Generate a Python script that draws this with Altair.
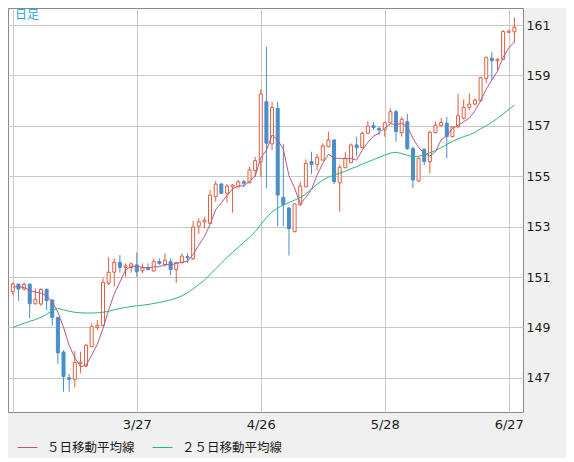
import altair as alt
import pandas as pd

# ---- data (USD/JPY daily candles) ----
opens = [150.42, 150.72, 150.52, 150.72, 149.94, 149.93, 150.51, 150.09, 149.40, 148.02,
         147.00, 146.94, 147.56, 147.47, 148.24, 149.00, 149.08, 150.75, 151.19, 151.58,
         151.38, 151.38, 151.48, 151.25, 151.38, 151.24, 151.61, 151.48, 151.61, 151.30,
         151.57, 151.81, 151.74, 153.02, 153.19, 153.13, 154.19, 154.69, 154.32, 154.58,
         154.58, 154.78, 154.74, 155.22, 155.58, 157.96, 156.28, 157.69, 154.16, 153.74,
         152.80, 153.87, 154.58, 155.58, 155.47, 155.64, 156.17, 156.44, 154.74, 155.34,
         155.54, 156.24, 156.14, 156.70, 157.01, 156.90, 156.86, 157.12, 157.56, 156.73,
         157.16, 156.10, 154.81, 156.07, 155.58, 156.73, 157.01, 157.10, 156.57, 156.96,
         157.30, 157.73, 157.86, 158.00, 158.88, 159.68, 159.58, 159.64, 160.71, 160.73]
highs = [150.79, 150.72, 150.79, 150.72, 150.55, 150.55, 150.55, 150.09, 149.40, 148.10,
         147.15, 148.06, 148.04, 148.34, 149.16, 149.29, 150.95, 151.78, 151.74, 151.87,
         151.54, 151.58, 151.97, 151.54, 151.54, 151.74, 151.74, 151.94, 151.74, 151.57,
         151.94, 151.94, 153.22, 153.33, 153.39, 154.45, 154.82, 154.74, 154.69, 154.69,
         154.85, 154.85, 155.38, 155.77, 158.45, 160.14, 157.96, 157.96, 156.28, 153.77,
         153.92, 154.78, 155.67, 155.97, 155.88, 156.30, 156.77, 156.46, 155.45, 155.97,
         156.30, 156.57, 156.77, 157.19, 157.16, 156.97, 157.16, 157.69, 157.65, 157.34,
         157.47, 156.17, 155.75, 156.10, 156.81, 157.16, 157.32, 157.36, 156.99, 158.27,
         158.05, 158.29, 158.09, 158.95, 159.74, 159.94, 159.68, 160.80, 160.80, 161.30]
lows = [150.29, 150.06, 150.46, 149.36, 149.90, 149.85, 149.69, 149.06, 147.55, 146.45,
        146.45, 146.62, 147.18, 147.42, 148.21, 148.90, 149.05, 150.68, 150.62, 151.17,
        151.01, 151.17, 151.01, 151.15, 151.25, 151.21, 151.48, 151.41, 151.08, 150.77,
        151.54, 151.57, 151.67, 152.71, 152.93, 153.10, 153.99, 154.29, 153.95, 153.55,
        154.56, 154.56, 154.72, 154.98, 154.98, 154.52, 156.04, 153.02, 153.02, 151.85,
        152.77, 153.82, 154.56, 155.09, 155.25, 155.62, 156.15, 154.69, 153.59, 155.31,
        155.51, 155.80, 156.11, 156.68, 156.83, 156.63, 156.57, 157.10, 156.37, 156.57,
        156.04, 154.52, 154.78, 155.44, 155.11, 156.70, 156.97, 155.71, 156.54, 156.90,
        157.25, 157.63, 157.82, 157.96, 158.69, 158.82, 159.19, 159.61, 160.70, 160.30]
closes = [150.72, 150.52, 150.70, 149.94, 150.11, 150.51, 150.06, 149.40, 147.99, 147.05,
          146.94, 147.61, 147.62, 148.29, 149.03, 149.08, 150.79, 151.19, 151.58, 151.38,
          151.44, 151.52, 151.21, 151.37, 151.30, 151.61, 151.54, 151.67, 151.30, 151.57,
          151.83, 151.76, 152.98, 153.19, 153.26, 154.25, 154.69, 154.32, 154.61, 154.65,
          154.78, 154.72, 155.25, 155.62, 158.26, 156.31, 157.73, 154.25, 153.87, 152.92,
          153.90, 154.61, 155.51, 155.47, 155.75, 156.20, 156.44, 154.78, 155.35, 155.71,
          156.24, 156.13, 156.70, 156.99, 156.93, 156.83, 157.12, 157.56, 156.77, 157.26,
          156.10, 154.85, 155.71, 155.58, 156.74, 157.03, 157.13, 156.57, 156.96, 157.40,
          157.73, 157.86, 158.02, 158.91, 159.72, 159.58, 159.64, 160.74, 160.76, 160.91]
ma5 = [150.60, 150.62, 150.58, 150.47, 150.40, 150.36, 150.26, 150.00, 149.61, 149.00,
       148.29, 147.80, 147.44, 147.50, 147.90, 148.33, 148.96, 149.68, 150.33, 150.80,
       151.28, 151.42, 151.43, 151.38, 151.37, 151.40, 151.41, 151.50, 151.48, 151.54,
       151.58, 151.63, 151.89, 152.27, 152.60, 153.09, 153.67, 153.94, 154.23, 154.50,
       154.61, 154.62, 154.80, 155.00, 155.73, 156.03, 156.63, 156.43, 156.08, 155.02,
       154.53, 153.91, 154.16, 154.48, 155.05, 155.51, 155.87, 155.73, 155.70, 155.70,
       155.70, 155.64, 156.03, 156.35, 156.59, 156.71, 156.91, 157.08, 157.04, 157.11,
       156.96, 156.51, 156.14, 155.90, 155.80, 155.98, 156.44, 156.61, 156.89, 157.02,
       157.16, 157.31, 157.60, 157.99, 158.45, 158.82, 159.17, 159.72, 160.09, 160.33]
ma25 = [149.00, 149.08, 149.16, 149.24, 149.31, 149.40, 149.52, 149.66, 149.76, 149.70,
        149.64, 149.60, 149.58, 149.57, 149.57, 149.58, 149.60, 149.64, 149.70, 149.75,
        149.79, 149.83, 149.86, 149.88, 149.91, 149.95, 149.99, 150.04, 150.09, 150.16,
        150.25, 150.38, 150.53, 150.70, 150.88, 151.10, 151.33, 151.55, 151.78, 151.98,
        152.17, 152.38, 152.58, 152.80, 153.08, 153.35, 153.58, 153.74, 153.86, 153.95,
        154.05, 154.15, 154.30, 154.48, 154.68, 154.85, 154.96, 155.05, 155.12, 155.20,
        155.30, 155.38, 155.48, 155.57, 155.66, 155.75, 155.84, 155.92, 155.95, 155.90,
        155.83, 155.77, 155.79, 155.85, 155.93, 156.02, 156.13, 156.26, 156.38, 156.48,
        156.57, 156.64, 156.74, 156.88, 157.00, 157.14, 157.30, 157.47, 157.65, 157.82]

x_tick_pos = [0, 22, 44, 66, 88]
x_tick_labels = ["", "3/27", "4/26", "5/28", "6/27"]
y_ticks = [147, 149, 151, 153, 155, 157, 159, 161]
series_names = ["５日移動平均線", "２５日移動平均線"]
corner_label = ["日足"]

RED = "#dc5f3e"
BLUE = "#4a8ec9"
PINK = "#b9568c"
GREEN = "#2fb574"

n = len(closes)
df = pd.DataFrame({"i": list(range(n)), "open": opens, "high": highs,
                   "low": lows, "close": closes})
df["dir"] = ["up" if c >= o else "down" for o, c in zip(opens, closes)]

ma_df = pd.concat([
    pd.DataFrame({"i": list(range(n)), "v": ma5, "s": series_names[0]}),
    pd.DataFrame({"i": list(range(n)), "v": ma25, "s": series_names[1]}),
], ignore_index=True)

label_expr = " : ".join(f"datum.value == {p} ? '{t}'" for p, t in zip(x_tick_pos, x_tick_labels)) + " : ''"

xscale = alt.Scale(domain=[-0.852, 90.526], nice=False, zero=False, padding=0)
yscale = alt.Scale(domain=[145.643, 161.675], nice=False, zero=False, padding=0)

x_axis = alt.Axis(values=x_tick_pos, labelExpr=label_expr, grid=True, ticks=False,
                  domain=False, labelPadding=6, labelFont="DejaVu Sans", labelFontSize=13,
                  labelColor="#1a1a1a", gridColor="#c8c8c8", labelFlush=False, title=None)
y_axis = alt.Axis(orient="right", values=y_ticks, grid=True, ticks=False, domain=False,
                  labelPadding=3, labelFont="DejaVu Sans", labelFontSize=12.5,
                  labelColor="#1a1a1a", gridColor="#c8c8c8", title=None)

dir_stroke = alt.Scale(domain=["up", "down"], range=[RED, BLUE])
dir_fill = alt.Scale(domain=["up", "down"], range=["#ffffff", BLUE])

base = alt.Chart(df)
wick = base.mark_rule(strokeWidth=1).encode(
    x=alt.X("i:Q", scale=xscale, axis=x_axis),
    y=alt.Y("low:Q", scale=yscale, axis=y_axis),
    y2="high:Q",
    stroke=alt.Stroke("dir:N", scale=dir_stroke, legend=None),
)
body = base.mark_bar(size=3, strokeWidth=1).encode(
    x="i:Q",
    y="open:Q",
    y2="close:Q",
    fill=alt.Fill("dir:N", scale=dir_fill, legend=None),
    stroke=alt.Stroke("dir:N", scale=dir_stroke, legend=None),
)
lines = alt.Chart(ma_df).mark_line(strokeWidth=1).encode(
    x="i:Q",
    y="v:Q",
    color=alt.Color("s:N", scale=alt.Scale(domain=series_names, range=[PINK, GREEN]),
                    sort=series_names,
                    legend=alt.Legend(orient="none", legendX=9, legendY=429,
                                      direction="horizontal", title=None,
                                      symbolType="stroke", symbolSize=400,
                                      symbolStrokeWidth=1, labelFont="Noto Sans CJK JP",
                                      labelFontSize=12.5, labelOffset=9, columnPadding=15,
                                      padding=0, labelColor="#1a1a1a")),
)
corner = alt.Chart(pd.DataFrame({"t": corner_label})).mark_text(
    align="left", baseline="top", font="Noto Sans CJK JP", fontSize=12, color="#2aa6e0"
).encode(x=alt.value(7), y=alt.value(2), text="t:N")

chart = alt.layer(wick, body, lines, corner).properties(
    width=515, height=404, background="#f0f0f0",
    padding={"left": 0, "top": 0, "right": 43, "bottom": 46},
    autosize=alt.AutoSizeParams(type="none"),
).configure_view(fill="white", stroke="#888888", strokeWidth=1)

chart.save("out.html", embed_options={"renderer": "svg", "actions": False})
